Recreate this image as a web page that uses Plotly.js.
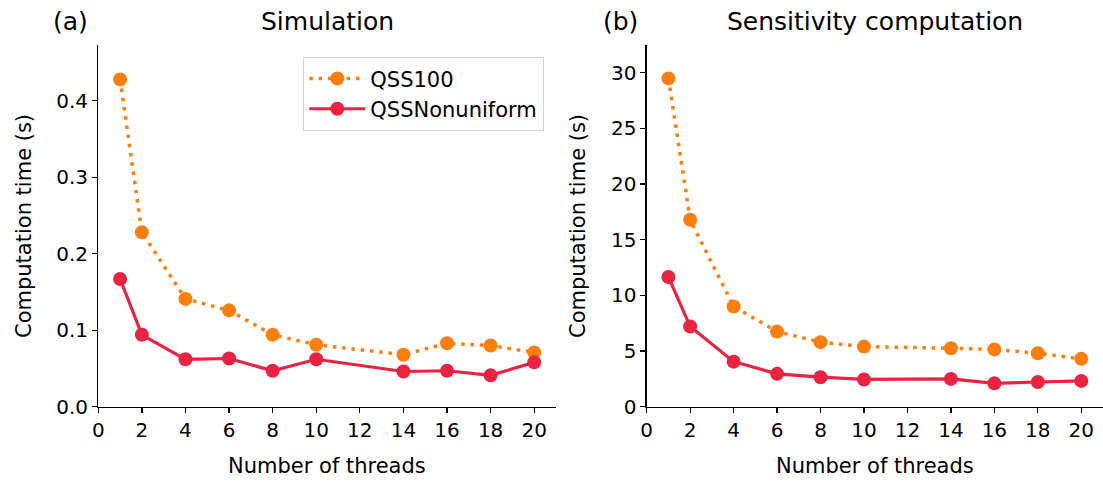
<!DOCTYPE html>
<html>
<head>
<meta charset="utf-8">
<script src="https://cdn.plot.ly/plotly-3.0.1.min.js"></script>
<style>html,body{margin:0;padding:0;background:#fff;}#chart{width:1103px;height:482px;}</style>
</head>
<body>
<div id="chart"></div>
<script>
const threads = [1, 2, 4, 6, 8, 10, 14, 16, 18, 20];
const simQSS100 = [0.428, 0.228, 0.141, 0.126, 0.094, 0.081, 0.068, 0.083, 0.080, 0.071];
const simNonuniform = [0.167, 0.094, 0.062, 0.063, 0.047, 0.062, 0.046, 0.047, 0.041, 0.058];
const sensQSS100 = [29.5, 16.8, 9.0, 6.75, 5.8, 5.4, 5.25, 5.15, 4.8, 4.3];
const sensNonuniform = [11.66, 7.2, 4.05, 2.95, 2.65, 2.45, 2.5, 2.1, 2.22, 2.32];
const seriesNames = ["QSS100", "QSSNonuniform"];
const xTicks = [0, 2, 4, 6, 8, 10, 12, 14, 16, 18, 20];

const ORANGE = "#ff7f0e";
const RED = "#eb2342";
const FONT = "DejaVu Sans, sans-serif";
const FS = 20;

function qssTrace(y, xa, ya, show) {
  return {x: threads, y: y, xaxis: xa, yaxis: ya, name: seriesNames[0], showlegend: show,
    type: "scatter", mode: "lines+markers",
    line: {color: ORANGE, width: 3.5, dash: "3.5px,5.8px"},
    marker: {color: ORANGE, size: 14}};
}
function nonTrace(y, xa, ya, show) {
  return {x: threads, y: y, xaxis: xa, yaxis: ya, name: seriesNames[1], showlegend: show,
    type: "scatter", mode: "lines+markers",
    line: {color: RED, width: 3.2},
    marker: {color: RED, size: 14}};
}

const data = [
  qssTrace(simQSS100, "x", "y", true),
  nonTrace(simNonuniform, "x", "y", true),
  qssTrace(sensQSS100, "x2", "y2", false),
  nonTrace(sensNonuniform, "x2", "y2", false)
];

const W = 1103, H = 482;
const yDom = [1 - 406.7 / H, 1 - 45 / H];
function xaxis(dom) {
  return {domain: dom, range: [0, 21], tickvals: xTicks, ticktext: xTicks.map(String),
    showline: true, linecolor: "#000", linewidth: 1.3, ticks: "outside", ticklen: 5,
    tickwidth: 1.3, tickcolor: "#000", showgrid: false, zeroline: false,
    tickfont: {family: FONT, size: FS, color: "#000"}, fixedrange: true};
}
function yaxis(range, vals, fmt, anchor) {
  return {domain: yDom, range: range, tickvals: vals, tickformat: fmt, anchor: anchor,
    showline: true, linecolor: "#000", linewidth: 1.3, ticks: "outside", ticklen: 5,
    tickwidth: 1.3, tickcolor: "#000", showgrid: false, zeroline: false,
    tickfont: {family: FONT, size: FS, color: "#000"}, fixedrange: true};
}

const ann = (text, x, y, size, extra) => Object.assign({text: text, x: x / W, y: 1 - y / H,
  xref: "paper", yref: "paper", showarrow: false, xanchor: "center", yanchor: "middle",
  font: {family: FONT, size: size, color: "#000"}}, extra || {});

const layout = {
  width: W, height: H,
  margin: {l: 0, r: 0, t: 0, b: 0},
  paper_bgcolor: "#fff", plot_bgcolor: "#fff",
  font: {family: FONT, size: FS, color: "#000"},
  xaxis: xaxis([98.3 / W, 556 / W]),
  xaxis2: Object.assign(xaxis([646.7 / W, 1]), {anchor: "y2"}),
  yaxis: yaxis([0, 0.473], [0, 0.1, 0.2, 0.3, 0.4], ".1f", "x"),
  yaxis2: yaxis([0, 32.5], [0, 5, 10, 15, 20, 25, 30], "d", "x2"),
  showlegend: true,
  legend: {x: 544 / W, y: 1 - 57 / H, xanchor: "right", yanchor: "top",
    bgcolor: "rgba(255,255,255,0.8)", bordercolor: "#d4d4d4", borderwidth: 1.3,
    font: {family: FONT, size: 21, color: "#000"}, itemwidth: 56, tracegroupgap: 0},
  annotations: [
    ann("Simulation", 327, 22, 25),
    ann("(a)", 70, 22, 25),
    ann("Sensitivity computation", 875, 22, 25),
    ann("(b)", 620, 22, 25),
    ann("Number of threads", 327, 466, 21),
    ann("Number of threads", 875, 466, 21),
    ann("Computation time (s)", 24, 226, 21, {textangle: -90}),
    ann("Computation time (s)", 578, 226, 21, {textangle: -90})
  ]
};

Plotly.newPlot("chart", data, layout, {displayModeBar: false, staticPlot: true});
</script>
</body>
</html>
